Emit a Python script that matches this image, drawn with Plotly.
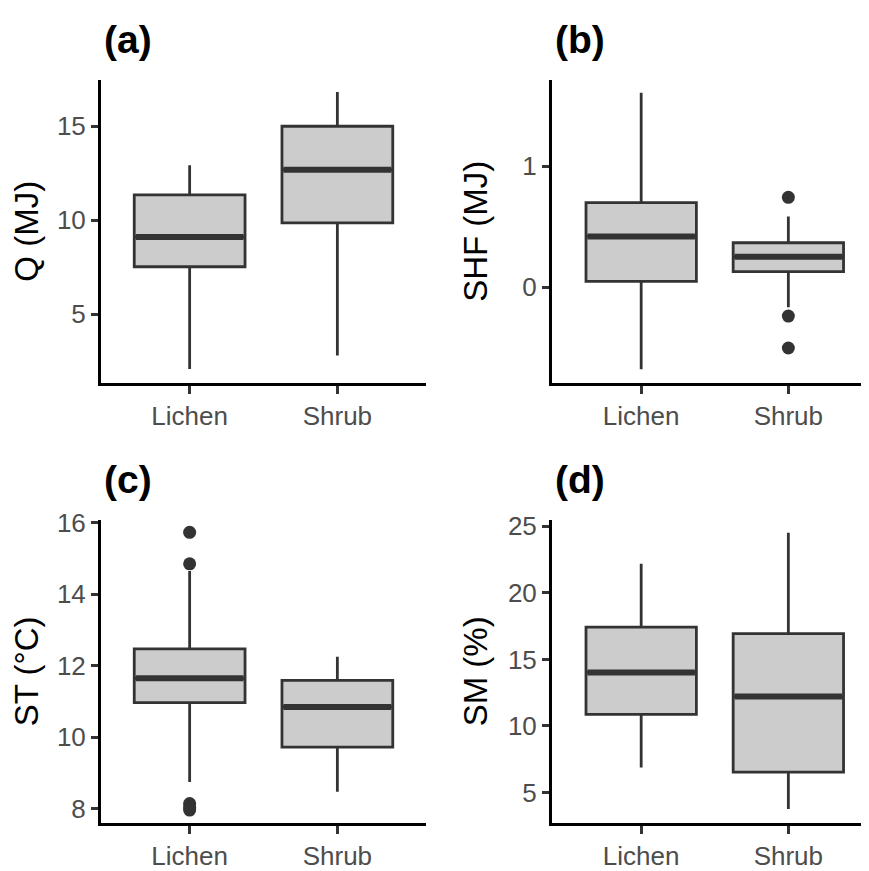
import plotly.graph_objects as go

categories = ["Lichen", "Shrub"]

# Panel (a) Q (MJ)
q_low = [2.07, 2.80]
q_q1 = [7.52, 9.86]
q_med = [9.11, 12.68]
q_q3 = [11.35, 15.00]
q_high = [12.92, 16.82]
q_out = [[], []]

# Panel (b) SHF (MJ)
shf_low = [-0.679, -0.167]
shf_q1 = [0.046, 0.127]
shf_med = [0.418, 0.250]
shf_q3 = [0.698, 0.366]
shf_high = [1.606, 0.582]
shf_out = [[], [0.741, -0.240, -0.504]]

# Panel (c) ST (°C)
st_low = [8.75, 8.48]
st_q1 = [10.97, 9.73]
st_med = [11.65, 10.85]
st_q3 = [12.47, 11.59]
st_high = [14.65, 12.25]
st_out = [[15.73, 14.85, 8.15, 8.05, 7.97], []]

# Panel (d) SM (%)
sm_low = [6.88, 3.77]
sm_q1 = [10.88, 6.54]
sm_med = [14.02, 12.21]
sm_q3 = [17.43, 16.94]
sm_high = [22.19, 24.51]
sm_out = [[], []]

panels = [
    dict(tag="(a)", ytitle="Q (MJ)", low=q_low, q1=q_q1, med=q_med, q3=q_q3, high=q_high, out=q_out,
         yrange=[1.34, 17.48], ticks=[5, 10, 15], standoff=11),
    dict(tag="(b)", ytitle="SHF (MJ)", low=shf_low, q1=shf_q1, med=shf_med, q3=shf_q3, high=shf_high, out=shf_out,
         yrange=[-0.792, 1.714], ticks=[0, 1], standoff=25),
    dict(tag="(c)", ytitle="ST (°C)", low=st_low, q1=st_q1, med=st_med, q3=st_q3, high=st_high, out=st_out,
         yrange=[7.61, 16.08], ticks=[8, 10, 12, 14, 16], standoff=11),
    dict(tag="(d)", ytitle="SM (%)", low=sm_low, q1=sm_q1, med=sm_med, q3=sm_q3, high=sm_high, out=sm_out,
         yrange=[2.72, 25.49], ticks=[5, 10, 15, 20, 25], standoff=11),
]

# page body has an 8px margin: figure is placed at (8, 8)
OFF = 8
W, H = 869 - OFF, 871 - OFF
# pixel geometry of plot areas in window coords: (x0, x1, y0_top, y1_bottom)
boxes_px = [
    (101, 426, 69, 379),
    (552, 869, 69, 379),
    (101, 426, 519, 829),
    (552, 869, 519, 829),
]
xranges = [[-0.6, 1.6], [-0.606, 1.548], [-0.6, 1.6], [-0.606, 1.548]]

LINE = "#333333"
FILL = "#CCCCCC"
FONT = "Liberation Sans, Arial, sans-serif"
BW = 0.75

fig = go.Figure()
layout = dict(width=W, height=H, margin=dict(l=0, r=0, t=0, b=0),
              paper_bgcolor="white", plot_bgcolor="white", showlegend=False,
              font=dict(family=FONT))
annotations = []

for i, p in enumerate(panels):
    n = i + 1
    xa = "x" if n == 1 else f"x{n}"
    ya = "y" if n == 1 else f"y{n}"
    xs = list(range(len(categories)))
    fig.add_trace(go.Box(
        x=xs, q1=p["q1"], median=p["med"], q3=p["q3"],
        lowerfence=p["low"], upperfence=p["high"],
        width=BW, fillcolor=FILL, line=dict(color=LINE, width=2.8),
        boxpoints=False, whiskerwidth=0, xaxis=xa, yaxis=ya, hoverinfo="skip"))
    # thicker median line
    for j, m in enumerate(p["med"]):
        fig.add_trace(go.Scatter(
            x=[xs[j] - BW / 2 + 0.01, xs[j] + BW / 2 - 0.01], y=[m, m], mode="lines",
            line=dict(color=LINE, width=6), xaxis=xa, yaxis=ya, hoverinfo="skip"))
    # outliers
    ox, oy = [], []
    for j, vals in enumerate(p["out"]):
        for v in vals:
            ox.append(xs[j])
            oy.append(v)
    if ox:
        fig.add_trace(go.Scatter(x=ox, y=oy, mode="markers",
                                 marker=dict(color=LINE, size=13), xaxis=xa, yaxis=ya,
                                 hoverinfo="skip"))
    x0, x1, yt, yb = [v - OFF for v in boxes_px[i]]
    axcommon = dict(showgrid=False, zeroline=False, showline=True, linecolor="black", linewidth=3,
                    ticks="outside", tickcolor=LINE, tickwidth=2.8, ticklen=7,
                    tickfont=dict(size=26, color="#4D4D4D", family=FONT))
    layout["xaxis" if n == 1 else f"xaxis{n}"] = dict(
        axcommon, domain=[x0 / W, min(x1 / W, 1.0)], range=xranges[i], anchor=ya,
        tickmode="array", tickvals=xs, ticktext=categories, ticklen=8)
    layout["yaxis" if n == 1 else f"yaxis{n}"] = dict(
        axcommon, domain=[1 - yb / H, 1 - yt / H], range=p["yrange"], anchor=xa,
        tickmode="array", tickvals=p["ticks"],
        title=dict(text=p["ytitle"], font=dict(size=33, color="black", family=FONT),
                   standoff=p["standoff"]))
    annotations.append(dict(text="<b>" + p["tag"] + "</b>", xref="paper", yref="paper",
                            x=(x0 + 1) / W, y=1 - (yt - 41.5) / H, xanchor="left", yanchor="middle",
                            showarrow=False, font=dict(size=39, color="black", family=FONT)))

layout["annotations"] = annotations
fig.update_layout(**layout)
fig.write_html("out.html")
